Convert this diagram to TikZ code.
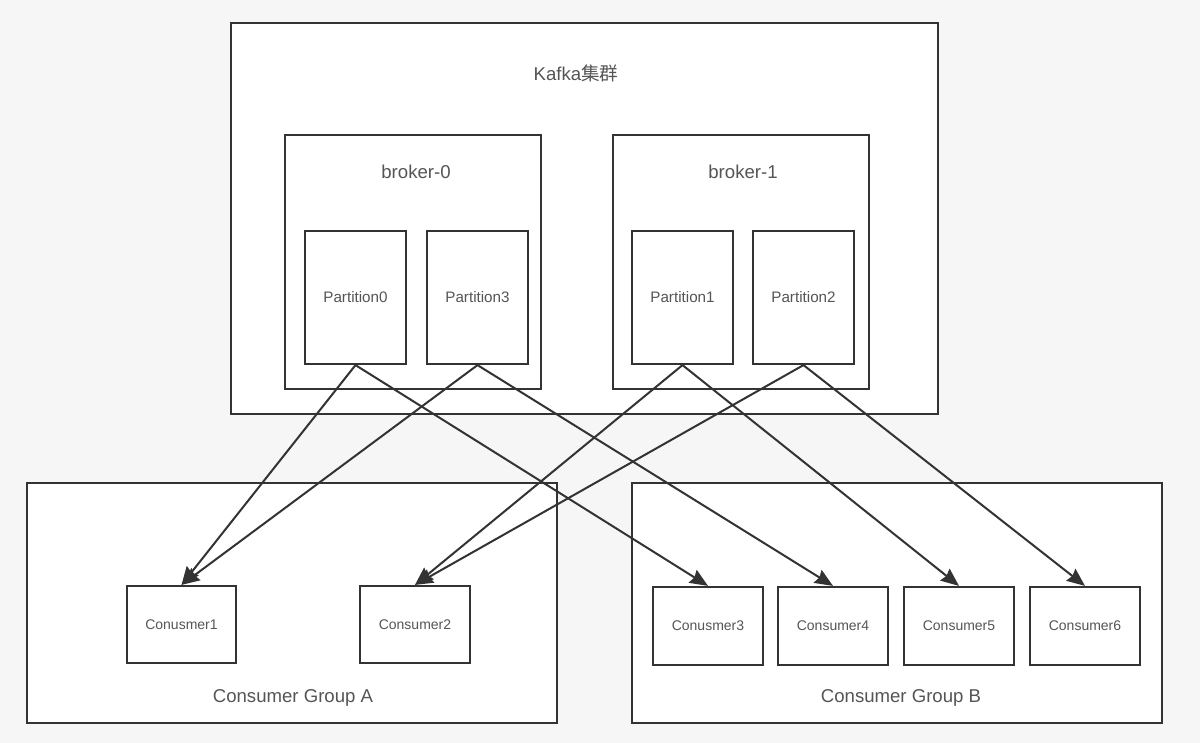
\documentclass[tikz,border=0pt]{standalone}
\usepackage{fontspec}
\setmainfont{Liberation Sans}
\newfontfamily\cjk{Noto Sans CJK SC}
\usetikzlibrary{arrows.meta}
\definecolor{bg}{HTML}{F6F6F6}
\definecolor{edge}{HTML}{333333}
\definecolor{ink}{HTML}{555555}

\begin{document}
\begin{tikzpicture}[x=0.5pt,y=-0.5pt,
    box/.style={draw=edge,line width=1.1pt,fill=white,inner sep=0pt},
    part/.style={box,minimum width=50.5pt,minimum height=66.5pt,text=ink,font=\fontsize{7.6}{9}\selectfont},
    cons/.style={box,minimum width=55pt,minimum height=38.5pt,text=ink,font=\fontsize{7}{8}\selectfont},
    title/.style={inner sep=0pt,text=ink,font=\fontsize{9.3}{11}\selectfont},
    feed/.style={draw=edge,line width=1pt,-{Stealth[length=9pt,width=7.5pt,inset=1pt]}}]
  \fill[bg] (0,0) rectangle (1200,743);
  \useasboundingbox (0,0) rectangle (1200,743);

  \node[box,minimum width=353.5pt,minimum height=195.5pt] (kafka) at (584.5,218.5) {};
  \node[title] (kafkalabel) at (576,73) {Kafka{\cjk 集群}};
  \node[box,minimum width=128pt,minimum height=127pt] (broker0) at (413,262) {};
  \node[box,minimum width=128pt,minimum height=127pt] (broker1) at (741,262) {};
  \node[title] (broker0label) at (416,172) {broker-0};
  \node[title] (broker1label) at (743,172) {broker-1};

  \node[part] (p0) at (355.5,297.5) {Partition0};
  \node[part] (p3) at (477.5,297.5) {Partition3};
  \node[part] (p1) at (682.5,297.5) {Partition1};
  \node[part] (p2) at (803.5,297.5) {Partition2};

  \node[box,minimum width=265pt,minimum height=120pt] (groupa) at (292,603) {};
  \node[box,minimum width=265pt,minimum height=120pt] (groupb) at (897,603) {};
  \node[title] (groupalabel) at (293,698) {Consumer Group A};
  \node[title] (groupblabel) at (901,698) {Consumer Group B};

  \node[cons,minimum width=54.5pt] (c1) at (181.5,624.5) {Conusmer1};
  \node[cons] (c2) at (415,624.5) {Consumer2};
  \node[cons,minimum height=39pt] (c3) at (708,626) {Conusmer3};
  \node[cons,minimum height=39pt] (c4) at (833,626) {Consumer4};
  \node[cons,minimum height=39pt] (c5) at (959,626) {Consumer5};
  \node[cons,minimum height=39pt] (c6) at (1085,626) {Consumer6};

  \draw[feed] (p0.south) -- (c1.north);
  \draw[feed] (p0.south) -- (c3.north);
  \draw[feed] (p3.south) -- (c1.north);
  \draw[feed] (p3.south) -- (c4.north);
  \draw[feed] (p1.south) -- (c2.north);
  \draw[feed] (p1.south) -- (c5.north);
  \draw[feed] (p2.south) -- (c2.north);
  \draw[feed] (p2.south) -- (c6.north);
\end{tikzpicture}
\end{document}
